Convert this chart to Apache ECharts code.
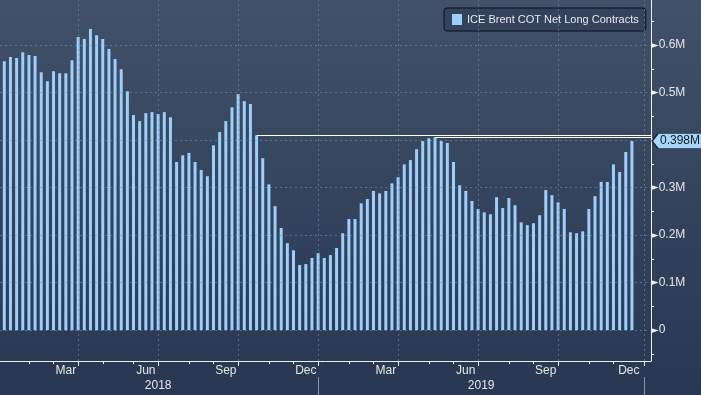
<!DOCTYPE html>
<html>
<head>
<meta charset="utf-8">
<script src="https://cdn.jsdelivr.net/npm/echarts@6/dist/echarts.min.js"></script>
<style>
html,body{margin:0;padding:0;background:#2f3f59;}
#chart{width:701px;height:395px;}
</style>
</head>
<body>
<div id="chart"></div>
<script>
// ---- data ----
const SERIES_NAME = 'ICE Brent COT Net Long Contracts';
const FIRST_WEEK = '2018-01-02'; // weekly (Tuesday) observations
const BAR_VALUES = [
  0.566, 0.575, 0.573, 0.585, 0.579, 0.577, 0.543, 0.524, 0.545, 0.541,
  0.541, 0.568, 0.617, 0.613, 0.634, 0.621, 0.613, 0.592, 0.571, 0.549,
  0.503, 0.453, 0.440, 0.457, 0.459, 0.455, 0.459, 0.448, 0.354, 0.368,
  0.373, 0.354, 0.337, 0.324, 0.389, 0.417, 0.440, 0.469, 0.497, 0.482,
  0.476, 0.410, 0.362, 0.307, 0.261, 0.215, 0.183, 0.168, 0.137, 0.139,
  0.152, 0.162, 0.152, 0.158, 0.173, 0.204, 0.234, 0.234, 0.267, 0.276,
  0.293, 0.288, 0.293, 0.309, 0.322, 0.349, 0.358, 0.381, 0.398, 0.404,
  0.406, 0.398, 0.394, 0.354, 0.305, 0.293, 0.272, 0.255, 0.248, 0.244,
  0.280, 0.257, 0.278, 0.263, 0.227, 0.221, 0.225, 0.242, 0.295, 0.284,
  0.269, 0.255, 0.206, 0.204, 0.208, 0.255, 0.282, 0.312, 0.312, 0.349,
  0.333, 0.375, 0.398
];
const MONTH_NAMES = ['Jan','Feb','Mar','Apr','May','Jun','Jul','Aug','Sep','Oct','Nov','Dec'];
const LABELLED_MONTHS = ['Mar','Jun','Sep','Dec'];
const Y_LABEL_VALUES = [0, 0.1, 0.2, 0.3, 0.4, 0.5, 0.6];
const Y_MINOR_VALUES = [-0.05, 0.05, 0.15, 0.25, 0.35, 0.45, 0.55, 0.65];
const LAST_LABEL = '0.398M';
const HIGH_LINE_FROM = [41, 70]; // bars from which the white "highest since" lines start

// ---- axis construction ----
const X_MIN = -0.7, X_MAX = 105.1;
const Y_MIN = -0.065, Y_MAX = 0.695;
const DAY = 86400000;
const t0 = Date.parse(FIRST_WEEK + 'T00:00:00Z');
const weekDate = i => new Date(t0 + i * 7 * DAY);
const WEEKS = BAR_VALUES.map((_, i) => weekDate(i).toISOString().slice(0, 10));

// month boundaries: at the last weekly observation of each month
const monthEnds = [];
for (let i = -1; i <= 106; i++) {
  const d = weekDate(i), n = weekDate(i + 1);
  if (d.getUTCMonth() !== n.getUTCMonth()) monthEnds.push({ i, m: d.getUTCMonth(), y: d.getUTCFullYear() });
}
const inRange = v => v >= X_MIN && v <= X_MAX;
const monthTicks = monthEnds.map(e => e.i).filter(inRange);
const quarterTicks = monthEnds.filter(e => LABELLED_MONTHS.includes(MONTH_NAMES[e.m])).map(e => e.i).filter(inRange);
const yearTicks = monthEnds.filter(e => e.m === 11).map(e => e.i).filter(inRange);

const monthLabelMap = {};
for (let k = 1; k < monthEnds.length; k++) {
  const name = MONTH_NAMES[monthEnds[k].m];
  const pos = (monthEnds[k - 1].i + monthEnds[k].i) / 2;
  if (LABELLED_MONTHS.includes(name) && inRange(pos)) monthLabelMap[pos] = name;
}
const yearLabelMap = {};
const decEnds = monthEnds.filter(e => e.m === 11);
for (let k = 1; k < decEnds.length; k++) {
  const pos = (decEnds[k - 1].i + decEnds[k].i) / 2;
  if (inRange(pos)) yearLabelMap[pos] = String(decEnds[k].y);
}

const barData = BAR_VALUES.map((v, i) => [i, v]);
const FONT = 'Liberation Sans';
const GRID_COLOR = 'rgba(120,150,180,0.55)';

const chart = echarts.init(document.getElementById('chart'), null, { renderer: 'canvas' });
chart.setOption({
  animation: false,
  backgroundColor: {
    type: 'linear', x: 0, y: 0, x2: 0, y2: 1,
    colorStops: [{ offset: 0, color: '#405169' }, { offset: 1, color: '#283752' }]
  },
  textStyle: { fontFamily: FONT },
  grid: { left: 0, right: 50, top: 0, bottom: 34 },
  legend: {
    left: 444, top: 8,
    data: [SERIES_NAME],
    icon: 'rect', itemWidth: 10, itemHeight: 11, itemGap: 5,
    padding: [6, 7, 6, 8],
    backgroundColor: '#33435c', borderColor: '#0c1119', borderWidth: 1, borderRadius: 3,
    textStyle: { color: '#e8e8e8', fontSize: 11, fontFamily: FONT }
  },
  xAxis: [
    {
      type: 'value', min: X_MIN, max: X_MAX, position: 'bottom',
      axisLine: { show: true, onZero: false, lineStyle: { color: '#f0f0f0', width: 1 } },
      axisTick: { show: true, customValues: monthTicks, length: 3, lineStyle: { color: '#f0f0f0' } },
      axisLabel: {
        customValues: Object.keys(monthLabelMap).map(Number),
        formatter: v => monthLabelMap[v] || '',
        color: '#e6e6e6', fontSize: 12, margin: 4, fontFamily: FONT
      },
      splitLine: { show: false }
    },
    {
      type: 'value', min: X_MIN, max: X_MAX, position: 'bottom', offset: 16,
      axisLine: { show: false, onZero: false },
      axisTick: { show: true, customValues: yearTicks, length: 20, lineStyle: { color: '#8795aa' } },
      axisLabel: {
        customValues: Object.keys(yearLabelMap).map(Number),
        formatter: v => yearLabelMap[v] || '',
        color: '#e6e6e6', fontSize: 12, margin: 3, fontFamily: FONT
      },
      splitLine: { show: false }
    },
    {
      type: 'value', min: X_MIN, max: X_MAX, position: 'bottom',
      axisLine: { show: false, onZero: false },
      axisTick: { show: true, customValues: quarterTicks, length: 5, lineStyle: { color: '#f0f0f0' } },
      axisLabel: { show: false },
      splitLine: { show: false }
    }
  ],
  yAxis: [
    {
      type: 'value', min: Y_MIN, max: Y_MAX, position: 'right',
      axisLine: { show: true, onZero: false, lineStyle: { color: '#f0f0f0', width: 1 } },
      axisTick: { show: false },
      axisLabel: {
        customValues: Y_LABEL_VALUES,
        margin: 0,
        formatter: v => '{t|\u25BA}{v|' + (v === 0 ? '0' : v.toFixed(1) + 'M') + '}',
        rich: {
          t: { fontSize: 10, color: '#f0f0f0', fontFamily: 'DejaVu Sans' },
          v: { fontSize: 12, color: '#e6e6e6', fontFamily: FONT, padding: [0, 0, 0, 0] }
        }
      },
      splitLine: { show: false }
    },
    {
      type: 'value', min: Y_MIN, max: Y_MAX, position: 'right',
      axisLine: { show: false, onZero: false },
      axisTick: { show: true, customValues: Y_MINOR_VALUES, length: 3, lineStyle: { color: '#f0f0f0' } },
      axisLabel: { show: false },
      splitLine: { show: false }
    }
  ],
  series: [
    {
      name: 'grid', type: 'line', data: [], z: 0, silent: true,
      markLine: {
        silent: true, symbol: ['none', 'none'], animation: false,
        label: { show: false },
        lineStyle: { color: GRID_COLOR, type: [2, 3], width: 1 },
        data: Y_LABEL_VALUES.map(v => ({ yAxis: v })).concat(quarterTicks.map(v => ({ xAxis: v })))
      }
    },
    {
      name: SERIES_NAME, type: 'bar', data: barData, barWidth: 3, z: 2,
      itemStyle: { color: '#9dcff9' },
      markLine: {
        silent: true, symbol: ['none', 'none'], animation: false,
        label: { show: false },
        lineStyle: { color: '#ffffff', width: 1, type: 'solid' },
        data: HIGH_LINE_FROM.map(i => [{ coord: [i, BAR_VALUES[i]] }, { coord: [X_MAX, BAR_VALUES[i]] }])
      },
      markPoint: {
        silent: true, animation: false,
        symbol: 'path://M0,7 L6,0 L50,0 L50,14 L6,14 Z',
        symbolSize: [50, 15], symbolKeepAspect: false, symbolOffset: [26, 0],
        itemStyle: { color: '#a8d6fb', borderColor: '#18202c', borderWidth: 1 },
        label: { show: true, position: 'inside', formatter: LAST_LABEL, color: '#111820', fontSize: 12, fontFamily: FONT, offset: [3, 0] },
        data: [{ coord: [X_MAX, BAR_VALUES[BAR_VALUES.length - 1]] }]
      }
    }
  ]
});
</script>
</body>
</html>
